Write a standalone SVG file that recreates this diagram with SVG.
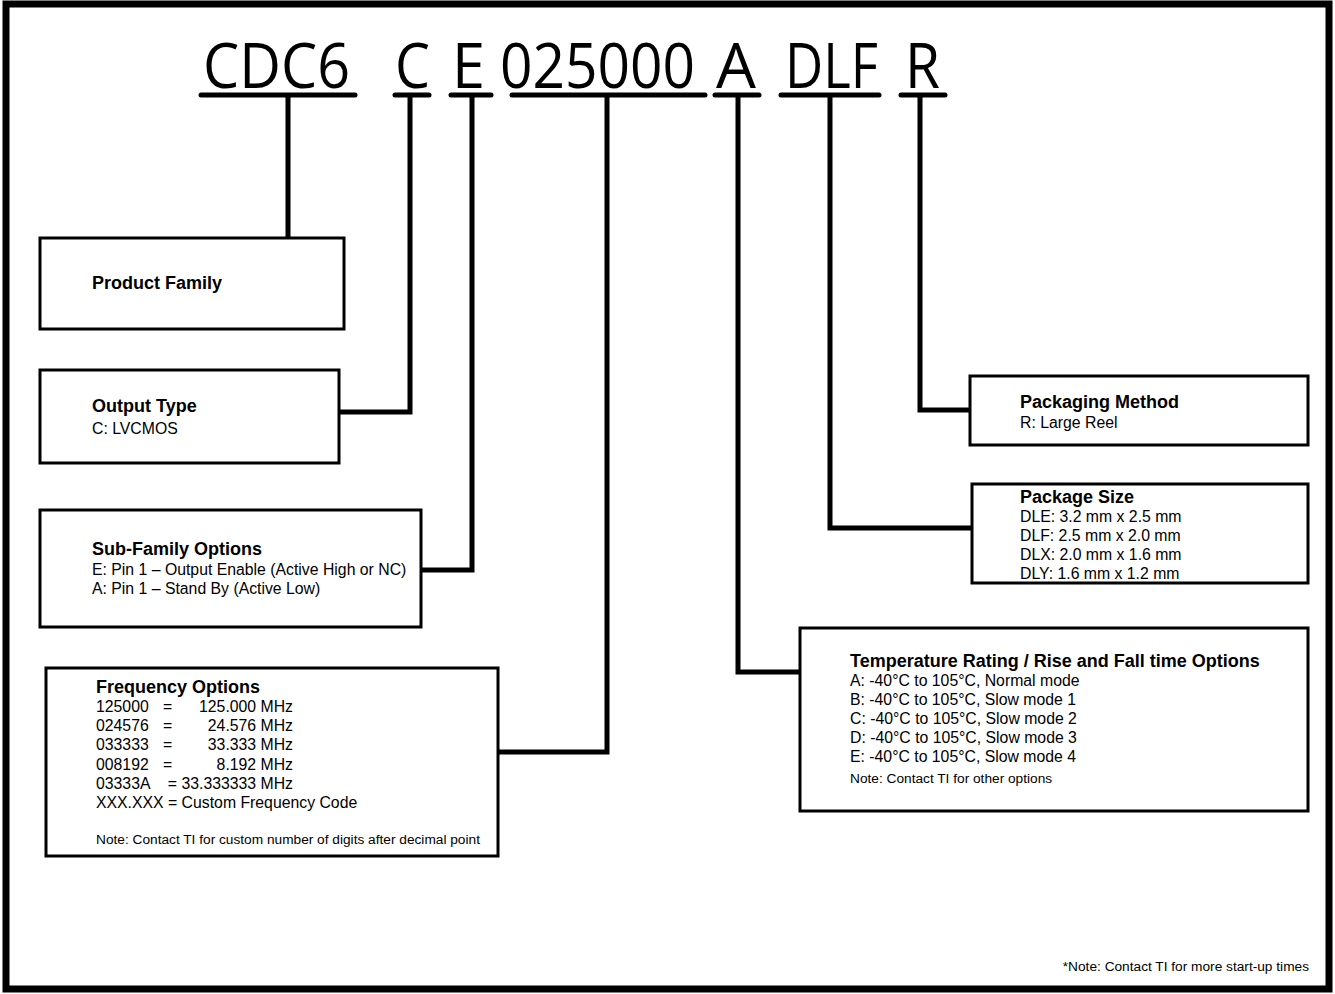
<svg xmlns="http://www.w3.org/2000/svg" width="1335" height="994" viewBox="0 0 1335 994">
<style>
.big{font-family:"Open Sans","Liberation Sans",sans-serif;font-size:62px;fill:#000}
.ul{stroke:#000;stroke-width:5;stroke-linecap:round;fill:none}
.box{fill:#fff;stroke:#000;stroke-width:3}
.con{stroke:#000;stroke-width:5;fill:none}
.t{font-family:"Liberation Sans",Arial,sans-serif;font-size:18px;font-weight:bold;fill:#000}
.b{font-family:"Liberation Sans",Arial,sans-serif;font-size:15.8px;fill:#000}
.s{font-family:"Liberation Sans",Arial,sans-serif;font-size:13.7px;fill:#000}
</style>
<rect x="6" y="4" width="1323" height="985" fill="#fff" stroke="#000" stroke-width="7"/>
<g id="code">
<text class="big" x="203" y="88" textLength="147" lengthAdjust="spacingAndGlyphs">CDC6</text>
<text class="big" x="395" y="88" textLength="35" lengthAdjust="spacingAndGlyphs">C</text>
<text class="big" x="452" y="88" textLength="33" lengthAdjust="spacingAndGlyphs">E</text>
<text class="big" x="500" y="88" textLength="195" lengthAdjust="spacingAndGlyphs">025000</text>
<text class="big" x="716" y="88" textLength="40" lengthAdjust="spacingAndGlyphs">A</text>
<text class="big" x="785" y="88" textLength="93" lengthAdjust="spacingAndGlyphs">DLF</text>
<text class="big" x="905" y="88" textLength="35" lengthAdjust="spacingAndGlyphs">R</text>
<line class="ul" x1="201" y1="95" x2="355" y2="95"/>
<line class="ul" x1="395" y1="95" x2="429" y2="95"/>
<line class="ul" x1="451" y1="95" x2="491" y2="95"/>
<line class="ul" x1="512" y1="95" x2="705" y2="95"/>
<line class="ul" x1="715" y1="95" x2="759" y2="95"/>
<line class="ul" x1="781" y1="95" x2="879" y2="95"/>
<line class="ul" x1="901" y1="95" x2="945" y2="95"/>
</g>
<g id="connectors">
<polyline class="con" points="288,95 288,238"/>
<polyline class="con" points="410,95 410,412 339,412"/>
<polyline class="con" points="472,95 472,570 421,570"/>
<polyline class="con" points="607,95 607,752 498,752"/>
<polyline class="con" points="738,95 738,672 800,672"/>
<polyline class="con" points="830,95 830,528 972,528"/>
<polyline class="con" points="920,95 920,410 970,410"/>
</g>
<g id="product-family">
<rect class="box" x="40" y="238" width="304" height="91"/>
<text class="t" x="92" y="289">Product Family</text>
</g>
<g id="output-type">
<rect class="box" x="40" y="370" width="299" height="93"/>
<text class="t" x="92" y="412">Output Type</text>
<text class="b" x="92" y="434">C: LVCMOS</text>
</g>
<g id="sub-family">
<rect class="box" x="40" y="510" width="381" height="117"/>
<text class="t" x="92" y="555">Sub-Family Options</text>
<text class="b" x="92" y="575">E: Pin 1 – Output Enable (Active High or NC)</text>
<text class="b" x="92" y="594">A: Pin 1 – Stand By (Active Low)</text>
</g>
<g id="frequency">
<rect class="box" x="46" y="668" width="452" height="188"/>
<text class="t" x="96" y="693">Frequency Options</text>
<text class="b" x="96" y="712">125000</text><text class="b" x="163" y="712">=</text><text class="b" x="293" y="712" text-anchor="end">125.000 MHz</text>
<text class="b" x="96" y="731">024576</text><text class="b" x="163" y="731">=</text><text class="b" x="293" y="731" text-anchor="end">24.576 MHz</text>
<text class="b" x="96" y="750">033333</text><text class="b" x="163" y="750">=</text><text class="b" x="293" y="750" text-anchor="end">33.333 MHz</text>
<text class="b" x="96" y="770">008192</text><text class="b" x="163" y="770">=</text><text class="b" x="293" y="770" text-anchor="end">8.192 MHz</text>
<text class="b" x="96" y="789">03333A</text><text class="b" x="293" y="789" text-anchor="end">= 33.333333 MHz</text>
<text class="b" x="96" y="808">XXX.XXX = Custom Frequency Code</text>
<text class="s" x="96" y="844">Note: Contact TI for custom number of digits after decimal point</text>
</g>
<g id="temperature">
<rect class="box" x="800" y="628" width="508" height="183"/>
<text class="t" x="850" y="667">Temperature Rating / Rise and Fall time Options</text>
<text class="b" x="850" y="686">A: -40°C to 105°C, Normal mode</text>
<text class="b" x="850" y="705">B: -40°C to 105°C, Slow mode 1</text>
<text class="b" x="850" y="724">C: -40°C to 105°C, Slow mode 2</text>
<text class="b" x="850" y="743">D: -40°C to 105°C, Slow mode 3</text>
<text class="b" x="850" y="762">E: -40°C to 105°C, Slow mode 4</text>
<text class="s" x="850" y="783">Note: Contact TI for other options</text>
</g>
<g id="packaging-method">
<rect class="box" x="970" y="376" width="338" height="69"/>
<text class="t" x="1020" y="408">Packaging Method</text>
<text class="b" x="1020" y="428">R: Large Reel</text>
</g>
<g id="package-size">
<rect class="box" x="972" y="484" width="336" height="99"/>
<text class="t" x="1020" y="503">Package Size</text>
<text class="b" x="1020" y="522">DLE: 3.2 mm x 2.5 mm</text>
<text class="b" x="1020" y="541">DLF: 2.5 mm x 2.0 mm</text>
<text class="b" x="1020" y="560">DLX: 2.0 mm x 1.6 mm</text>
<text class="b" x="1020" y="579">DLY: 1.6 mm x 1.2 mm</text>
</g>
<text class="s" x="1309" y="971" text-anchor="end">*Note: Contact TI for more start-up times</text>
</svg>
